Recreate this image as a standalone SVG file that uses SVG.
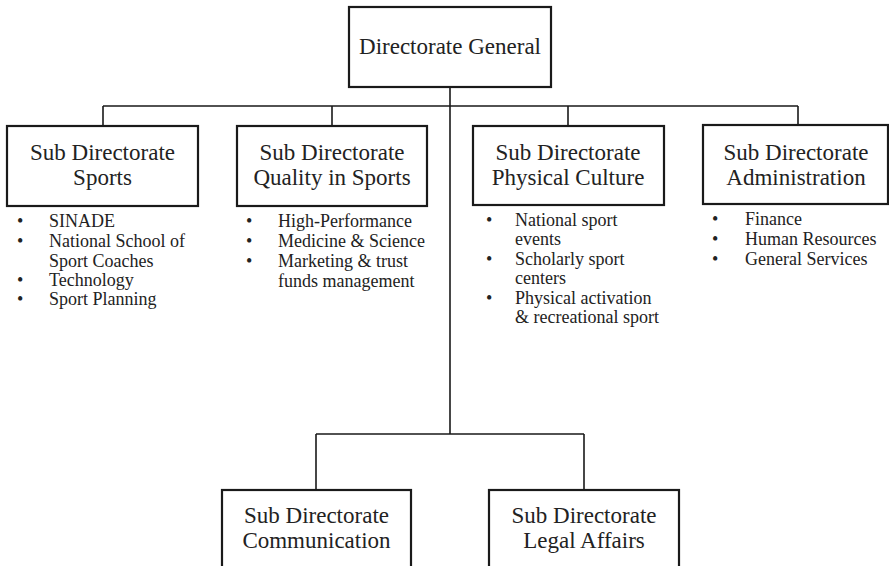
<svg xmlns="http://www.w3.org/2000/svg" width="889" height="566" viewBox="0 0 889 566">
<style>
.box{fill:#fff;stroke:#1a1a1a;stroke-width:2.2}
.ln{fill:none;stroke:#1a1a1a;stroke-width:1.6}
.t{font-family:"Liberation Serif","Times New Roman",serif;font-size:23px;fill:#222;text-anchor:middle}
.b{font-family:"Liberation Serif","Times New Roman",serif;font-size:18px;fill:#222}
</style>
<rect width="889" height="566" fill="#fff"/>
<g id="connectors">
<path class="ln" d="M450 87V434M103 106H798M103 106V126M332 106V126M568 106V126M798 106V125M316 434H584M316 434V490M584 434V490"/>
</g>
<g id="dg">
<rect class="box" x="349" y="7" width="202" height="80"/>
<text class="t" x="450" y="54">Directorate General</text>
</g>
<g id="sports">
<rect class="box" x="7" y="126" width="191" height="80"/>
<text class="t" x="102.5" y="160">Sub Directorate</text>
<text class="t" x="102.5" y="185">Sports</text>
<g class="b">
<text x="17" y="227">•</text><text x="49" y="227">SINADE</text>
<text x="17" y="247">•</text><text x="49" y="247">National School of</text>
<text x="49" y="267">Sport Coaches</text>
<text x="17" y="286">•</text><text x="49" y="286">Technology</text>
<text x="17" y="305">•</text><text x="49" y="305">Sport Planning</text>
</g>
</g>
<g id="quality">
<rect class="box" x="237" y="126" width="190" height="80"/>
<text class="t" x="332" y="160">Sub Directorate</text>
<text class="t" x="332" y="185">Quality in Sports</text>
<g class="b">
<text x="246" y="227">•</text><text x="278" y="227">High-Performance</text>
<text x="246" y="247">•</text><text x="278" y="247">Medicine &amp; Science</text>
<text x="246" y="267">•</text><text x="278" y="267">Marketing &amp; trust</text>
<text x="278" y="287">funds management</text>
</g>
</g>
<g id="physical">
<rect class="box" x="473" y="126" width="191" height="79"/>
<text class="t" x="568" y="160">Sub Directorate</text>
<text class="t" x="568" y="185">Physical Culture</text>
<g class="b">
<text x="486" y="226">•</text><text x="515" y="226">National sport</text>
<text x="515" y="245">events</text>
<text x="486" y="265">•</text><text x="515" y="265">Scholarly sport</text>
<text x="515" y="284">centers</text>
<text x="486" y="304">•</text><text x="515" y="304">Physical activation</text>
<text x="515" y="323">&amp; recreational sport</text>
</g>
</g>
<g id="admin">
<rect class="box" x="703" y="125" width="185" height="79"/>
<text class="t" x="796" y="160">Sub Directorate</text>
<text class="t" x="796" y="185">Administration</text>
<g class="b">
<text x="712" y="225">•</text><text x="745" y="225">Finance</text>
<text x="712" y="245">•</text><text x="745" y="245">Human Resources</text>
<text x="712" y="265">•</text><text x="745" y="265">General Services</text>
</g>
</g>
<g id="communication">
<rect class="box" x="222" y="490" width="189" height="90"/>
<text class="t" x="316.5" y="523">Sub Directorate</text>
<text class="t" x="316.5" y="548">Communication</text>
</g>
<g id="legal">
<rect class="box" x="489" y="490" width="190" height="90"/>
<text class="t" x="584" y="523">Sub Directorate</text>
<text class="t" x="584" y="548">Legal Affairs</text>
</g>
</svg>
